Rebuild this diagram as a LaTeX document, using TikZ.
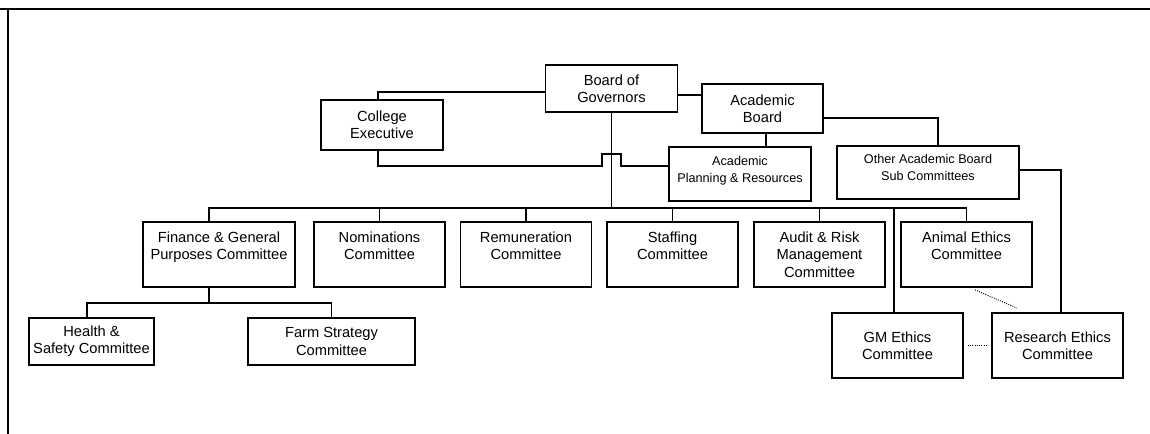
\documentclass[tikz,border=0pt]{standalone}
\usepackage{fontspec}
\setmainfont{Liberation Sans}
\begin{document}
\begin{tikzpicture}[x=0.75pt,y=-0.75pt,
	box/.style={draw, line width=1.2pt, inner sep=0pt, align=center, font=\fontsize{11}{13}\selectfont},
	rowbox/.style={box, minimum width=98.25pt, minimum height=48.75pt, text depth=13pt},
	subbox/.style={box, font=\fontsize{9.5}{12.75}\selectfont, text depth=7pt},
	link/.style={line width=1.2pt},
	dotlink/.style={densely dotted, line width=0.7pt}]
	\useasboundingbox (0,0) rectangle (1150,434);
	\draw[line width=1.6pt] (0,9) -- (1150,9);
	\draw[line width=1.2pt] (8,9) -- (8,434);
	% top level
	\node[box, minimum width=99pt, minimum height=35.25pt] (bog) at (611.5,88.5) {Board of\\Governors};
	\node[box, minimum width=90.75pt, minimum height=36.75pt] (ab) at (762.5,108.5) {Academic\\Board};
	\node[box, minimum width=91.5pt, minimum height=37.5pt] (ce) at (382,125) {College\\Executive};
	\node[subbox, minimum width=106.5pt, minimum height=40.5pt] (apr) at (740,174) {Academic\\Planning \& Resources};
	\node[subbox, minimum width=136.5pt, minimum height=39.75pt] (oab) at (928,172.5) {Other Academic Board\\Sub Committees};
	% committees
	\node[rowbox, minimum width=114pt] (fin) at (219,254.5) {Finance \& General\\Purposes Committee};
	\node[rowbox] (nom) at (379.5,254.5) {Nominations\\Committee};
	\node[rowbox] (rem) at (526,254.5) {Remuneration\\Committee};
	\node[rowbox] (stf) at (672.5,254.5) {Staffing\\Committee};
	\node[rowbox, text depth=0pt] (aud) at (819.5,254.5) {Audit \& Risk\\Management\\Committee};
	\node[rowbox] (ani) at (966.5,254.5) {Animal Ethics\\Committee};
	\node[box, minimum width=98.25pt, minimum height=48.75pt] (gm) at (897.5,345.5) {GM Ethics\\Committee};
	\node[box, minimum width=98.25pt, minimum height=48.75pt] (rec) at (1057.5,345.5) {Research Ethics\\Committee};
	\node[box, minimum width=93.75pt, minimum height=35.25pt] (hs) at (91.5,341.5) {Health \&\\Safety Committee};
	\node[box, minimum width=125.25pt, minimum height=35.25pt] (farm) at (331.5,341.5) {Farm Strategy\\Committee};
	% lines
	\draw[link] ([xshift=-3pt]ce.north) |- ([yshift=-2.6pt]bog.west);
	\draw[link] (bog.east |- 0,95) -- (ab.west |- 0,95);
	\draw[link] (bog.south) -- (bog.south |- 0,208);
	\draw[link] ([xshift=-7.5pt]fin.north) |- (ani.north |- 0,208) -- (ani.north);
	\foreach \n in {nom,rem,stf,aud}
		\draw[link] (\n.north) -- (\n.north |- 0,208);
	\draw[link] ([xshift=-2.6pt]gm.north) -- ([xshift=-2.6pt]gm.north |- 0,208);
	\draw[link] ([xshift=-3pt]ce.south) |- ([xshift=-7pt]bog.south |- 0,166) -- ++(0,-12) -- ++(19,0) -- ++(0,12) -- (apr.west |- 0,166);
	\draw[link] ([xshift=2.6pt]ab.south) -- ([xshift=2.6pt]ab.south |- apr.north);
	\draw[link] ([yshift=-7.1pt]ab.east) -| ([xshift=7.5pt]oab.north);
	\draw[link] ([yshift=1.9pt]oab.east) -| ([xshift=2.6pt]rec.north);
	\draw[link] ([xshift=-7.5pt]fin.south) -- ([xshift=-7.5pt]fin.south |- 0,303);
	\draw[link] ([xshift=-3.4pt]hs.north) |- (farm.north |- 0,303) -- (farm.north);
	\draw[dotlink, shorten <=3pt, shorten >=3pt] (gm.east) -- (rec.west);
	\draw[dotlink] ([xshift=6.4pt,yshift=-1.5pt]ani.south) -- ([xshift=-30.4pt,yshift=3pt]rec.north);
\end{tikzpicture}
\end{document}
